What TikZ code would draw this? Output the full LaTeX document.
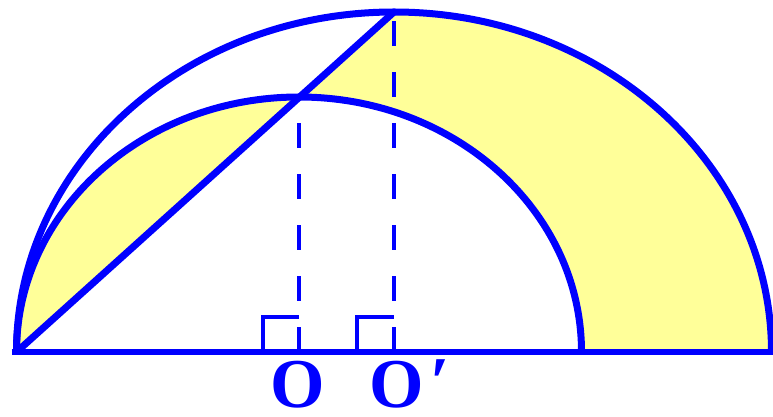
\documentclass[tikz,border=0pt]{standalone}
\usepackage{fontspec}
\setmainfont{Liberation Serif}
\definecolor{lblue}{RGB}{0,0,255}
\definecolor{lyellow}{RGB}{255,255,153}
\begin{document}
\begin{tikzpicture}[x=1pt,y=1pt,
  thickline/.style={draw=lblue, line width=7pt},
  baseline/.style={draw=lblue, line width=6pt},
  dashline/.style={draw=lblue, line width=4pt, dash pattern=on 25pt off 26pt},
  rightmark/.style={draw=lblue, line width=4pt, line cap=rect},
  lbl/.style={text=lblue, inner sep=0pt, font=\fontsize{70}{70}\selectfont\bfseries}]
\useasboundingbox (0,0) rectangle (773,417);
\coordinate (A) at (16.5,65);
\coordinate (O) at (299,65);
\coordinate (Op) at (394,65);
\coordinate (T) at (394,405);
\coordinate (S) at (299,320);
\coordinate (B) at (771.5,65);
\coordinate (C) at (581.5,65);
% yellow regions
\fill[lyellow] (A) arc[start angle=180,end angle=90,x radius=282.5,y radius=255] -- cycle;
\fill[lyellow] (S) -- (T) arc[start angle=90,end angle=0,x radius=377.5,y radius=340]
  -- (C) arc[start angle=0,end angle=90,x radius=282.5,y radius=255] -- cycle;
% dashed perpendiculars
\draw[dashline] (O) -- (S);
\draw[dashline] (Op) -- (T);
% right-angle marks
\draw[rightmark] (O) ++(-36,0) -- ++(0,35) -- ++(34,0);
\draw[rightmark] (Op) ++(-37,0) -- ++(0,35) -- ++(35,0);
% arcs, chord, base
\draw[thickline] (A) arc[start angle=180,end angle=0,x radius=377.5,y radius=340];
\draw[thickline] (A) arc[start angle=180,end angle=0,x radius=282.5,y radius=255];
\draw[thickline] (A) -- (T);
\draw[baseline] ([xshift=-5pt]A) -- ([xshift=1.5pt]B);
% labels
\node[lbl, anchor=north] (lO) at (298,56) {O};
\node[lbl, anchor=north] (lOp) at (397,56) {O\rlap{\hspace{6pt}\smash{\raisebox{2pt}{′}}}};
\end{tikzpicture}
\end{document}
